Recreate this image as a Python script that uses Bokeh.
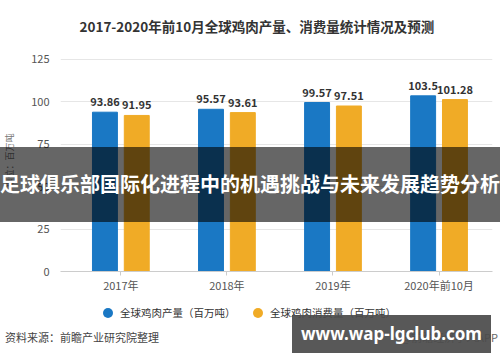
from bokeh.plotting import figure
from bokeh.models import (ColumnDataSource, Range1d, FixedTicker, Div, InlineStyleSheet)
from bokeh.core.properties import value
from bokeh.embed import file_html
from bokeh.resources import INLINE

# ---------------- data ----------------
categories = ["2017年", "2018年", "2019年", "2020年前10月"]
production = [93.86, 95.57, 99.57, 103.5]
consumption = [91.95, 93.61, 97.51, 101.28]
prod_labels = ["93.86", "95.57", "99.57", "103.5"]
cons_labels = ["91.95", "93.61", "97.51", "101.28"]
y_ticks = [0, 25, 50, 75, 100, 125]

title_text = "2017-2020年前10月全球鸡肉产量、消费量统计情况及预测"
series_names = ["全球鸡肉产量（百万吨）", "全球鸡肉消费量（百万吨）"]
unit_text = "单位：百万吨"
source_text = "资料来源：前瞻产业研究院整理"
source_right = "@前瞻经济学人APP"
banner_text = "足球俱乐部国际化进程中的机遇挑战与未来发展趋势分析"
site_text = "www.wap-lgclub.com"

FONT = "Noto Sans CJK SC"
BLUE = "#1a78c4"
ORANGE = "#f0ab26"

W, H = 500, 362
FL, FR, FT, FB = 48, 492, 45, 271  # frame edges in canvas px

idx = list(range(len(categories)))
off = 0.15
src = ColumnDataSource(dict(
    xp=[i - off for i in idx], xc=[i + off for i in idx],
    prod=production, cons=consumption,
    pl=prod_labels, cl=cons_labels,
))

p = figure(width=W, height=H, output_backend="svg", toolbar_location=None,
           x_range=Range1d(-0.569, 3.504), y_range=Range1d(0, 130.8),
           min_border_left=FL, min_border_right=W - FR,
           min_border_top=FT, min_border_bottom=H - FB,
           background_fill_color="white", border_fill_color="white")
p.outline_line_color = None

# title
p.title.text = title_text
p.title.align = "left"
p.title.offset = 19
p.title.standoff = 27
p.title.text_font = FONT
p.title.text_font_size = "13.5px"
p.title.text_font_style = "bold"
p.title.text_color = "#333333"

p.vbar(x="xp", top="prod", width=0.235, bottom=0, color=BLUE, source=src)
p.vbar(x="xc", top="cons", width=0.235, bottom=0, color=ORANGE, source=src)

p.text(x="xp", y="prod", text="pl", source=src, text_align="center",
       text_baseline="bottom", y_offset=-6, text_font=value(FONT),
       text_font_size="11px", text_font_style="bold", text_color="#333333")
p.text(x="xc", y="cons", text="cl", source=src, text_align="center",
       text_baseline="bottom", y_offset=-6, text_font=value(FONT),
       text_font_size="11px", text_font_style="bold", text_color="#333333")

# axes
p.xaxis.ticker = FixedTicker(ticks=idx)
p.xaxis.major_label_overrides = {i: c for i, c in zip(idx, categories)}
p.xaxis.axis_line_color = "#cccccc"
p.xaxis.major_tick_line_color = "#cccccc"
p.xaxis.major_tick_out = 4
p.xaxis.major_tick_in = 0
p.xaxis.minor_tick_line_color = None
p.xaxis.major_label_standoff = 1
p.xaxis.major_label_text_font = FONT
p.xaxis.major_label_text_font_size = "11px"
p.xaxis.major_label_text_color = "#555555"

p.yaxis.ticker = FixedTicker(ticks=y_ticks)
p.yaxis.axis_line_color = None
p.yaxis.major_tick_line_color = None
p.yaxis.minor_tick_line_color = None
p.yaxis.major_label_standoff = 5
p.yaxis.major_label_text_font = FONT
p.yaxis.major_label_text_font_size = "11px"
p.yaxis.major_label_text_color = "#555555"
p.yaxis.axis_label = unit_text
p.yaxis.axis_label_text_font = FONT
p.yaxis.axis_label_text_font_size = "9px"
p.yaxis.axis_label_text_font_style = "normal"
p.yaxis.axis_label_text_color = "#777777"
p.yaxis.axis_label_standoff = 12

p.xgrid.grid_line_color = None
p.ygrid.grid_line_color = "#e6e6e6"


def overlay(html, left, top, width, height):
    css = (":host { position: absolute !important; left: %dpx !important; "
           "top: %dpx !important; width: %dpx !important; height: %dpx !important; "
           "z-index: 10; margin: 0 !important; }" % (left, top, width, height))
    return Div(text=html, width=width, height=height,
               stylesheets=[InlineStyleSheet(css=css)])


legend_html = (
    '<div style="position:relative;width:310px;height:16px;font-family:\'%s\';'
    'font-size:10.5px;color:#333;white-space:nowrap;">'
    '<span style="position:absolute;left:8px;top:3px;width:10px;height:10px;'
    'border-radius:50%%;background:%s;"></span>'
    '<span style="position:absolute;left:25px;top:0;line-height:16px;">%s</span>'
    '<span style="position:absolute;left:158px;top:3px;width:10px;height:10px;'
    'border-radius:50%%;background:%s;"></span>'
    '<span style="position:absolute;left:175px;top:0;line-height:16px;">%s</span>'
    '</div>' % (FONT, BLUE, series_names[0], ORANGE, series_names[1]))
legend_div = overlay(legend_html, 95, 305, 310, 16)

foot_left = overlay(
    '<div style="width:200px;height:16px;font-family:\'%s\';font-size:11px;'
    'color:#444;line-height:16px;white-space:nowrap;">%s</div>'
    % (FONT, source_text), 5, 329, 200, 16)

foot_right = overlay(
    '<div style="width:100px;height:16px;font-family:\'%s\';font-size:11px;'
    'color:#666;text-align:right;line-height:16px;white-space:nowrap;">%s</div>'
    % (FONT, source_right), 398, 329, 100, 16)

banner = overlay(
    '<div style="width:500px;height:75px;background:rgba(0,0,0,0.6);display:flex;'
    'align-items:center;justify-content:center;font-family:\'%s\';font-size:20px;'
    'font-weight:bold;color:white;white-space:nowrap;">%s</div>'
    % (FONT, banner_text), 0, 147, 500, 75)

site = overlay(
    '<div style="width:199px;height:38px;background:rgba(75,75,75,0.93);display:flex;'
    'align-items:center;justify-content:center;font-family:\'Noto Sans\';font-size:17px;'
    'font-weight:bold;color:white;white-space:nowrap;">%s</div>'
    % site_text, 292, 315, 199, 38)

open("out.html", "w").write(
    file_html([p, legend_div, foot_left, foot_right, banner, site], INLINE))
